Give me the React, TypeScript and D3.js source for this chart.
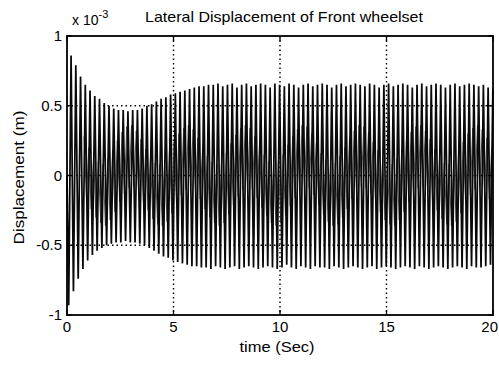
import React from "react";
import * as d3 from "d3";

const W = 499;
const H = 368;

// x tick labels and y tick labels
const xTicks = [0, 5, 10, 15, 20];
const yTicks = [-1, -0.5, 0, 0.5, 1];
const yTickLabels = ["-1", "-0.5", "0", "0.5", "1"];

// oscillation period (s) and start of first cycle
const period = 0.2225;
const t0 = 0.08;

// upper peaks (x 1e-3 m), one per cycle
const upperPeaks = [
  0.86, 0.79, 0.71, 0.65, 0.61, 0.57, 0.55, 0.52, 0.5, 0.48,
  0.47, 0.47, 0.46, 0.47, 0.47, 0.48, 0.5, 0.51, 0.53, 0.55,
  0.56, 0.58, 0.59, 0.6, 0.61, 0.62, 0.63, 0.64, 0.64, 0.65,
  0.65, 0.66, 0.64, 0.65, 0.66, 0.63, 0.65, 0.66, 0.64, 0.65,
  0.66, 0.65, 0.63, 0.66, 0.65, 0.64, 0.66, 0.65, 0.63, 0.65,
  0.66, 0.64, 0.65, 0.66, 0.65, 0.63, 0.65, 0.66, 0.64, 0.65,
  0.66, 0.65, 0.64, 0.66, 0.65, 0.63, 0.65, 0.66, 0.64, 0.65,
  0.66, 0.65, 0.63, 0.65, 0.66, 0.64, 0.65, 0.66, 0.65, 0.63,
  0.65, 0.66, 0.64, 0.65, 0.66, 0.65, 0.64, 0.65, 0.63, 0.62,
];

// lower peaks, one per cycle
const lowerPeaks = [
  -0.93, -0.83, -0.74, -0.67, -0.61, -0.57, -0.54, -0.52, -0.5, -0.49,
  -0.48, -0.48, -0.47, -0.48, -0.48, -0.49, -0.5, -0.52, -0.54, -0.56,
  -0.58, -0.59, -0.61, -0.62, -0.63, -0.64, -0.65, -0.65, -0.66, -0.66,
  -0.67, -0.65, -0.66, -0.67, -0.66, -0.65, -0.67, -0.66, -0.65, -0.66,
  -0.67, -0.66, -0.65, -0.66, -0.67, -0.66, -0.64, -0.66, -0.67, -0.65,
  -0.66, -0.67, -0.65, -0.66, -0.66, -0.67, -0.65, -0.66, -0.67, -0.66,
  -0.65, -0.66, -0.67, -0.66, -0.65, -0.67, -0.66, -0.65, -0.66, -0.67,
  -0.66, -0.65, -0.66, -0.67, -0.65, -0.66, -0.67, -0.66, -0.65, -0.66,
  -0.67, -0.66, -0.65, -0.66, -0.67, -0.65, -0.66, -0.66, -0.65, -0.64,
];

// centre of the inner (grey) band, one per cycle
const innerCenter = [
  0.1, 0.14, 0.12, 0.06, -0.02, -0.08, -0.12, -0.14, -0.1, -0.04,
  0.03, 0.09, 0.13, 0.14, 0.1, 0.04, -0.03, -0.09, -0.13, -0.14,
  -0.11, -0.05, 0.02, 0.08, 0.12, 0.14, 0.11, 0.05, -0.02, -0.08,
  -0.12, -0.14, -0.12, -0.06, 0.01, 0.07, 0.12, 0.14, 0.12, 0.06,
  -0.01, -0.07, -0.12, -0.14, -0.12, -0.07, 0.0, 0.06, 0.11, 0.14,
  0.13, 0.08, 0.01, -0.06, -0.11, -0.14, -0.13, -0.08, -0.02, 0.05,
  0.1, 0.14, 0.13, 0.09, 0.02, -0.04, -0.1, -0.13, -0.14, -0.1,
  -0.04, 0.03, 0.09, 0.13, 0.14, 0.1, 0.04, -0.03, -0.09, -0.13,
  -0.14, -0.11, -0.05, 0.02, 0.08, 0.12, 0.14, 0.11, 0.05, -0.02,
];
const innerHalf = 0.22;

export default function App() {
  const x = d3.scaleLinear().domain([0, 20]).range([67, 493]);
  const y = d3.scaleLinear().domain([-1, 1]).range([315, 36]);

  const pts: [number, number][] = [[0, 0]];
  for (let i = 0; i < lowerPeaks.length; i++) {
    const tl = t0 + i * period;
    const tu = tl + period / 2;
    pts.push([tl, lowerPeaks[i]]);
    if (tu <= 20) pts.push([tu, upperPeaks[i]]);
  }
  const innerPts: [number, number][] = [];
  for (let i = 0; i < innerCenter.length; i++) {
    const ta = t0 + i * period + period * 0.25;
    const tb = t0 + i * period + period * 0.75;
    if (i < 3) continue;
    if (ta <= 20) innerPts.push([ta, innerCenter[i] + innerHalf]);
    if (tb <= 20) innerPts.push([tb, innerCenter[i] - innerHalf]);
  }

  const line = d3
    .line<[number, number]>()
    .x((d) => x(Math.min(20, d[0])))
    .y((d) => y(d[1]));

  const font = "'Liberation Sans', Arial, Helvetica, sans-serif";
  const [x0, x1] = x.range();
  const [yb, yt] = y.range();

  return (
    <svg
      width={W}
      height={H}
      style={{ position: "absolute", left: 0, top: 0, background: "#fff" }}
      fontFamily={font}
    >
      <rect x={0} y={0} width={W} height={H} fill="#fff" />
      {/* grid */}
      {xTicks.slice(1, -1).map((t) => (
        <line
          key={"gx" + t}
          x1={x(t)}
          x2={x(t)}
          y1={yt}
          y2={yb}
          stroke="#000"
          strokeWidth={1.4}
          strokeDasharray="1.5,3"
        />
      ))}
      {yTicks.slice(1, -1).map((t) => (
        <line
          key={"gy" + t}
          x1={x0}
          x2={x1}
          y1={y(t)}
          y2={y(t)}
          stroke="#000"
          strokeWidth={1.4}
          strokeDasharray="1.5,3"
        />
      ))}
      {/* data */}
      <path d={line(innerPts) || ""} fill="none" stroke="#555" strokeWidth={1.0} />
      <path d={line(pts) || ""} fill="none" stroke="#0a0a0a" strokeWidth={1.75} />
      {/* box */}
      <rect x={x0} y={yt} width={x1 - x0} height={yb - yt} fill="none" stroke="#000" strokeWidth={1.8} />
      {/* ticks */}
      {xTicks.map((t, i) => (
        <g key={"xt" + t}>
          <line x1={x(t)} x2={x(t)} y1={yb} y2={yb - 5} stroke="#000" strokeWidth={1.3} />
          <line x1={x(t)} x2={x(t)} y1={yt} y2={yt + 5} stroke="#000" strokeWidth={1.3} />
          <text
            x={i === xTicks.length - 1 ? 498 : x(t)}
            y={yb + 17}
            fontSize={15}
            textAnchor={i === xTicks.length - 1 ? "end" : "middle"}
            fill="#000"
          >
            {t}
          </text>
        </g>
      ))}
      {yTicks.map((t, i) => (
        <g key={"yt" + t}>
          <line x1={x0} x2={x0 + 5} y1={y(t)} y2={y(t)} stroke="#000" strokeWidth={1.3} />
          <line x1={x1} x2={x1 - 5} y1={y(t)} y2={y(t)} stroke="#000" strokeWidth={1.3} />
          <text x={x0 - 5} y={y(t) + 5} fontSize={15} textAnchor="end" fill="#000">
            {yTickLabels[i]}
          </text>
        </g>
      ))}
      {/* exponent */}
      <text x={72} y={25} fontSize={14} fill="#000">
        x 10
        <tspan dy={-7} fontSize={11}>
          -3
        </tspan>
      </text>
      {/* title */}
      <text x={284} y={22} fontSize={15} textAnchor="middle" fill="#000" textLength={278} lengthAdjust="spacingAndGlyphs">
        Lateral Displacement of Front wheelset
      </text>
      {/* x label */}
      <text x={277} y={352} fontSize={15} textAnchor="middle" fill="#000" textLength={75} lengthAdjust="spacingAndGlyphs">
        time (Sec)
      </text>
      {/* y label */}
      <text
        transform={`translate(24,${(yt + yb) / 2 + 2}) rotate(-90)`}
        fontSize={15}
        textAnchor="middle"
        fill="#000"
        textLength={134}
        lengthAdjust="spacingAndGlyphs"
      >
        Displacement (m)
      </text>
    </svg>
  );
}
